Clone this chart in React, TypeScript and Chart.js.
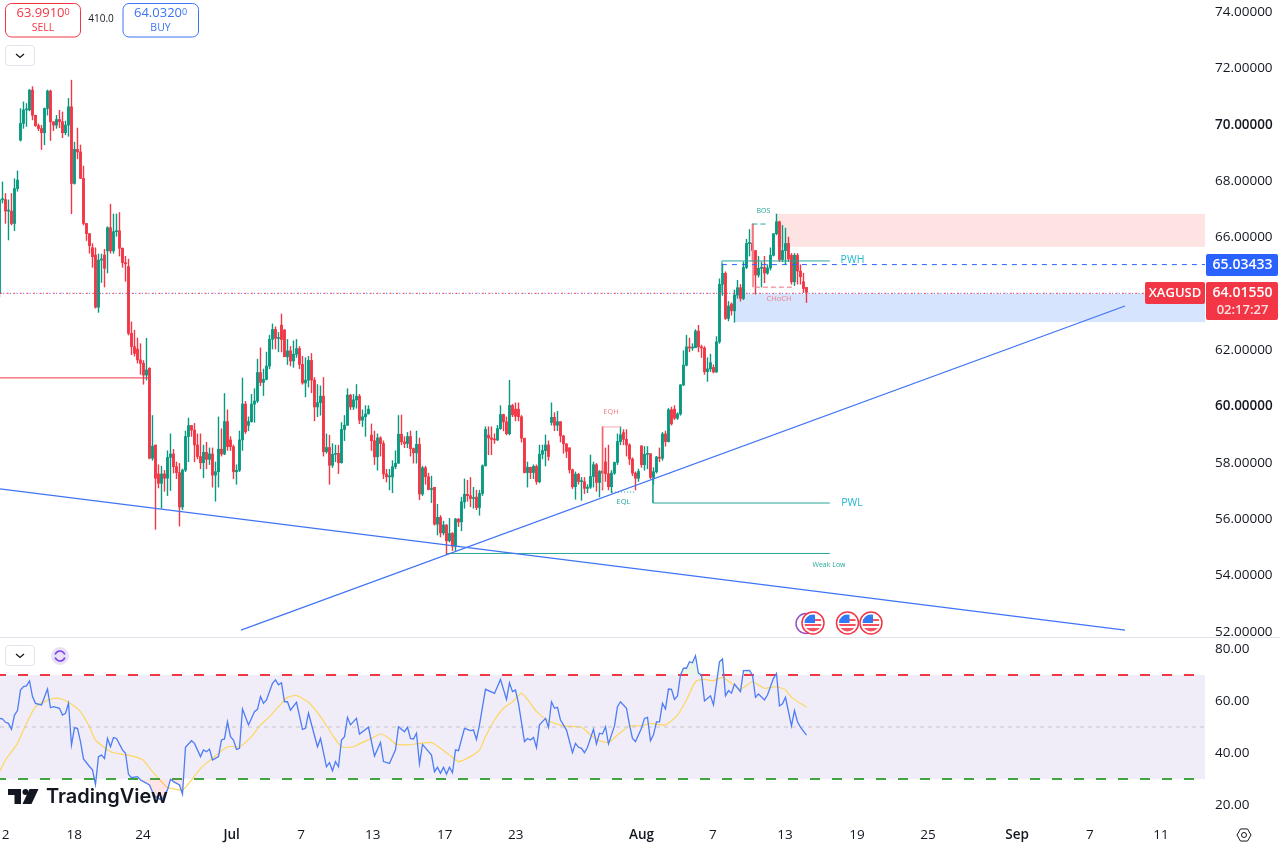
import React, { useEffect, useRef } from "react";
import { Chart, registerables } from "chart.js";

Chart.register(...registerables);

const opens = [
64.0,67.3,67.31,66.9,66.9,66.46,67.7,69.42,70.01,70.49,
70.49,71.19,70.3,69.93,69.83,69.68,70.54,71.16,70.07,69.95,
70.15,70.07,69.68,69.95,70.6,67.88,69.09,69.0,68.06,66.46,
66.1,65.6,65.34,63.49,65.16,65.34,65.49,66.31,65.49,66.17,
66.2,65.58,65.07,64.93,62.56,62.09,62.0,61.62,61.5,61.08,
61.32,58.13,58.6,57.57,57.24,57.57,57.42,58.16,58.28,57.83,
57.62,56.4,57.71,58.9,59.29,59.13,58.6,58.19,57.97,58.34,
58.09,58.28,57.53,57.65,58.45,58.28,59.43,58.78,58.54,57.65,
57.7,58.78,60.05,59.3,59.43,60.05,60.16,61.17,60.82,60.93,
61.4,62.35,62.7,62.38,62.85,62.68,61.73,61.94,61.58,61.82,
62.02,61.46,60.8,60.9,61.6,60.9,59.95,60.1,60.33,58.36,
58.51,57.88,58.27,58.3,57.97,59.15,59.3,60.37,59.95,60.2,
60.33,59.48,59.6,59.7,58.95,58.75,58.18,58.85,58.65,57.57,
57.47,57.47,57.83,57.95,58.98,58.71,58.65,58.9,58.47,58.32,
58.62,56.86,57.79,57.47,57.02,57.1,55.79,56.03,55.48,55.76,
55.2,55.46,55.01,55.97,55.87,56.58,56.85,56.8,56.7,56.75,
56.38,56.88,57.86,58.95,58.85,58.8,58.78,59.18,59.68,59.42,
59.0,60.0,59.87,59.87,59.6,58.84,57.62,57.81,57.62,57.84,
57.3,58.27,58.4,58.6,59.4,59.58,59.3,59.43,58.92,58.64,
58.5,57.72,57.12,57.56,57.3,57.3,57.06,57.1,57.48,57.9,
57.27,57.68,58.0,57.58,57.12,57.6,57.98,58.72,59.04,58.8,
58.6,58.1,57.6,57.42,58.57,57.9,58.27,58.29,57.45,57.65,
58.17,58.13,58.99,58.72,59.85,59.87,59.55,59.7,60.73,61.43,
62.08,62.04,62.05,62.64,62.08,62.04,61.2,61.3,61.35,61.19,
62.26,64.3,64.69,63.09,63.6,63.36,63.92,64.18,63.8,64.9,
65.75,65.76,65.5,64.63,64.87,64.9,64.7,64.88,65.33,66.1,
66.52,65.18,65.5,65.75,65.33,64.39,65.33,64.77,64.39,64.19,
];
const highs = [
67.35,67.94,67.53,67.3,67.53,68.05,68.33,70.54,70.78,70.72,
71.22,71.32,70.3,70.0,69.95,70.56,71.2,71.2,70.07,70.3,
70.48,70.42,70.1,70.9,71.55,69.35,69.85,69.25,68.5,66.46,
66.1,65.75,65.6,65.38,65.38,65.55,66.35,67.15,66.8,66.8,
66.85,65.6,65.3,65.2,62.97,62.68,62.4,62.2,61.6,62.39,
61.35,59.65,58.6,57.9,57.85,57.7,58.4,59.0,58.45,58.0,
57.95,57.75,59.1,59.56,59.3,59.37,59.0,59.0,58.6,58.7,
58.5,58.5,58.0,59.6,59.18,60.43,59.85,58.9,58.6,57.9,
59.1,60.98,60.15,59.6,60.4,60.6,61.65,62.05,61.3,61.9,
62.5,62.9,62.8,62.6,63.25,62.7,62.35,62.1,62.3,62.35,
62.1,61.75,61.7,61.75,61.85,61.0,60.75,60.7,61.0,59.0,
58.95,58.65,58.6,58.6,59.4,59.65,60.6,60.4,60.4,60.75,
60.4,59.85,60.0,60.0,59.35,59.1,59.0,58.9,58.75,57.74,
57.74,58.05,58.4,59.65,59.67,58.9,59.05,59.1,58.5,59.1,
58.85,57.85,57.85,57.6,57.5,57.1,56.5,56.1,55.9,55.78,
56.0,55.5,56.0,56.0,56.75,57.4,57.35,57.45,57.1,57.0,
57.0,57.9,59.25,59.25,59.25,59.0,59.3,60.0,59.7,59.6,
60.9,60.05,60.1,60.1,59.65,58.84,58.0,57.81,57.9,57.9,
58.6,58.6,58.96,58.75,60.1,59.75,59.8,59.43,58.95,58.65,
58.5,57.75,57.65,57.6,57.45,57.45,57.2,58.25,58.0,57.95,
57.7,59.25,58.5,58.6,57.7,58.0,59.0,59.25,59.15,59.15,
58.65,58.15,57.65,57.75,58.57,58.55,58.55,58.3,57.8,58.2,
58.5,59.05,59.1,59.9,59.95,60.0,59.75,60.75,61.95,62.5,
62.4,62.2,62.7,62.85,62.15,62.1,61.7,61.83,61.45,62.45,
64.5,65.03,64.75,63.7,63.65,64.1,64.45,64.3,65.1,65.9,
66.25,66.45,65.5,65.3,65.1,65.3,65.0,65.6,66.1,66.8,
66.55,66.4,66.3,65.98,65.4,65.4,65.4,65.0,64.7,64.19,
];
const lows = [
63.85,67.18,66.46,65.87,66.4,66.2,67.6,69.38,69.83,69.9,
70.45,70.13,69.9,69.75,69.08,69.25,70.3,69.4,69.75,69.83,
69.85,69.5,69.6,69.55,66.8,67.85,68.75,68.05,66.4,65.85,
65.4,64.9,63.45,63.3,64.36,64.2,64.7,65.4,65.4,66.0,
65.3,64.9,64.4,62.5,61.8,61.75,61.5,61.1,60.75,60.9,
58.1,58.05,55.6,57.07,56.35,56.95,56.8,56.98,57.6,57.4,
55.72,56.3,57.65,58.0,58.9,58.0,58.1,57.75,57.43,57.75,
57.9,57.1,56.6,57.1,58.2,58.25,58.4,58.4,57.4,57.2,
57.65,58.4,59.0,59.1,59.4,59.4,60.1,60.7,60.35,60.9,
61.3,62.0,62.0,61.9,61.9,61.75,61.45,61.4,61.35,61.7,
61.3,60.75,60.3,60.65,60.45,59.45,59.6,59.65,58.2,58.3,
57.2,57.8,58.0,57.58,57.95,58.75,59.3,59.85,59.85,59.9,
59.35,59.25,58.9,59.7,58.4,57.9,57.7,58.2,57.4,57.28,
57.0,56.9,57.75,57.95,58.6,58.5,58.5,58.2,57.95,57.95,
56.65,56.8,57.2,57.0,56.55,55.75,55.4,55.33,55.4,54.72,
55.15,54.85,54.85,55.7,55.55,56.35,56.6,56.4,56.35,56.3,
56.1,56.8,57.85,58.25,58.25,58.65,58.75,59.15,59.1,58.95,
58.95,59.6,59.45,59.45,58.7,57.6,57.1,57.4,57.4,57.2,
57.25,58.1,57.85,58.05,59.3,59.1,59.1,58.7,58.3,58.15,
57.6,57.05,56.67,57.2,56.63,56.87,56.9,57.05,57.1,56.95,
56.75,57.0,57.3,57.0,56.9,57.55,57.9,58.6,58.6,58.2,
57.9,57.5,57.0,57.3,57.8,57.7,57.75,57.4,57.2,57.6,
58.0,58.05,58.55,58.7,59.3,59.5,59.5,59.65,60.7,61.4,
61.9,61.95,62.05,61.9,61.7,61.1,60.85,61.2,61.15,61.17,
62.2,63.9,63.05,63.0,63.2,62.95,63.8,63.7,63.75,64.85,
65.3,65.1,63.95,64.55,64.2,64.35,64.65,64.8,65.3,66.05,
65.1,65.1,65.0,65.1,64.3,64.25,64.3,64.3,64.0,63.65,
];
const closes = [
67.3,67.3,66.9,66.9,66.46,67.7,68.0,70.01,70.49,70.49,
71.19,70.3,69.93,69.83,69.68,70.54,71.16,70.07,69.95,70.15,
70.07,69.68,69.95,70.6,67.88,69.09,69.0,68.06,66.46,66.1,
65.67,65.28,63.49,65.16,65.2,64.87,66.31,65.49,66.17,66.2,
65.58,65.07,65.03,62.56,62.09,61.85,61.62,61.5,61.08,61.26,
58.13,58.56,57.42,57.24,57.57,57.42,58.16,58.28,57.83,57.62,
56.4,57.71,58.9,59.29,59.13,58.6,58.19,57.97,58.34,58.09,
58.28,57.53,57.65,58.45,58.28,59.43,58.54,58.54,57.65,57.7,
58.78,60.05,59.07,59.43,60.05,60.16,61.17,60.82,60.93,61.4,
62.35,62.7,62.38,62.38,62.34,61.73,61.94,61.58,61.82,62.02,
61.46,60.8,60.9,61.6,60.9,59.95,60.1,60.33,58.36,58.51,
57.88,58.27,58.3,57.97,59.15,59.3,60.37,59.95,60.2,60.33,
59.48,59.6,59.7,59.87,58.75,58.18,58.85,58.65,57.57,57.47,
57.47,57.83,57.95,58.98,58.71,58.65,58.9,58.47,58.32,58.62,
56.86,57.79,57.47,57.02,57.05,55.79,56.03,55.48,55.76,55.2,
55.46,55.01,55.97,55.87,56.58,56.85,56.8,56.7,56.7,56.38,
56.88,57.86,59.15,58.85,58.8,58.78,59.18,59.68,59.42,59.0,
60.0,59.67,59.62,59.6,58.84,57.62,57.81,57.62,57.84,57.3,
58.27,58.4,58.6,58.19,59.58,59.3,59.43,58.92,58.64,58.37,
57.72,57.12,57.56,57.3,57.3,57.06,57.1,57.48,57.9,57.27,
57.66,57.6,57.58,57.12,57.6,57.98,58.72,58.96,58.8,58.6,
58.1,57.6,57.42,57.66,57.9,58.27,58.29,57.45,57.65,58.17,
58.13,58.99,58.72,59.85,59.35,59.55,59.7,60.73,61.43,62.08,
62.04,62.05,62.64,62.08,62.04,61.2,61.3,61.52,61.19,62.26,
64.3,64.69,63.09,63.53,63.36,63.92,64.18,63.8,64.9,65.75,
65.76,65.5,64.63,64.87,64.9,64.7,64.88,65.33,66.1,66.52,
65.18,65.5,65.75,65.2,64.39,65.33,64.77,64.57,64.15,64.02,
];

const rsiIndex = [
0,1,2,3,4,5,6,7,8,9,10,11,12,14,16,17,18,20,21,22,23,24,25,26,27,28,30,31,32,33,34,35,36,37,38,39,41,42,43,44,46,47,48,50,51,52,54,56,57,58,60,61,62,64,65,67,68,69,70,71,73,74,75,76,77,78,79,80,81,83,85,86,87,88,89,91,92,93,94,95,96,97,99,101,102,103,106,107,109,110,111,112,113,114,115,116,117,119,120,123,125,127,128,130,132,133,135,136,137,138,139,140,
141,144,145,146,147,148,149,150,151,152,153,155,157,158,159,160,162,165,167,169,170,171,172,173,175,176,177,178,179,180,182,183,184,185,186,187,189,191,192,193,194,195,196,198,199,200,201,202,203,205,206,207,209,210,211,212,214,215,216,217,218,219,220,221,222,223,224,225,226,227,228,229,230,231,232,233,234,235,237,238,240,241,242,243,244,245,247,248,250,251,252,253,255,256,258,259,260,261,262,264,265,266,267,269,
];
const rsiValues = [
53.3,53.1,51.8,51.4,49.1,54.6,56.3,64.2,65.5,65.8,67.7,61.7,59.1,58.5,64.6,57.4,57.8,57.2,54.6,55.3,59.1,43.1,49.7,49.5,44.4,37.7,34.8,33.5,27.9,38.6,39.2,37.9,45.6,42.4,45.9,45.6,41.2,39.9,31.8,30.5,30.9,29.6,29.0,27.7,25.0,23.2,21.9,25.8,29.9,29.0,27.7,24.2,42.2,44.7,43.7,38.6,41.2,40.5,41.5,37.3,38.6,45.0,45.4,52.0,46.3,45.0,41.4,41.8,56.9,50.8,55.9,56.8,61.7,59.1,60.4,66.8,68.1,66.2,67.0,59.7,59.7,56.5,59.5,49.1,49.5,55.3,42.4,45.6,34.7,36.3,33.2,36.7,34.7,45.0,46.3,53.7,50.8,53.3,47.3,49.9,38.8,44.0,36.7,36.0,41.2,50.1,48.2,49.9,45.6,45.4,47.6,35.8,
43.3,39.2,32.8,34.5,32.2,34.5,31.9,34.5,32.4,41.2,40.9,49.5,48.6,48.8,45.2,50.8,64.5,62.9,68.3,60.6,67.0,63.6,64.2,59.1,44.4,45.6,45.0,46.0,42.1,50.8,53.3,49.9,59.7,57.2,57.6,52.7,48.8,40.1,43.7,42.2,41.8,40.1,42.2,49.1,43.5,47.6,47.3,50.1,43.5,50.4,57.8,59.7,57.2,50.8,45.6,44.4,49.5,53.3,53.7,44.7,47.0,52.0,52.0,59.1,56.9,64.6,64.5,60.6,61.9,70.0,72.6,72.6,75.1,74.7,77.4,70.6,70.0,60.0,62.0,58.5,75.1,76.2,62.0,64.0,63.0,66.5,63.6,71.7,71.8,70.0,61.4,62.7,60.4,62.3,68.7,70.6,58.1,58.9,61.4,50.4,56.3,52.0,49.9,46.9,
];
const maIndex = [
0,2,6,9,12,15,18,20,23,27,30,32,37,41,45,48,51,54,56,58,61,64,67,71,76,80,84,87,90,94,96,99,103,107,111,114,118,120,124,127,130,132,136,140,
144,147,150,153,157,160,162,165,168,171,174,177,179,183,188,194,197,200,203,206,210,214,217,222,226,229,232,235,238,241,244,247,251,255,259,262,264,269,
];
const maValues = [
32.8,37.3,43.7,51.4,57.8,59.7,61.0,61.0,59.5,55.9,50.1,45.0,40.5,39.5,38.6,37.1,32.8,29.0,26.7,26.2,25.8,29.6,34.1,37.9,42.4,42.4,46.3,50.8,54.0,59.1,61.4,62.1,59.5,54.0,46.9,42.4,42.4,43.5,45.6,47.3,45.6,43.5,43.1,43.7,
44.0,41.8,39.2,36.7,38.6,41.2,46.3,52.7,57.2,59.7,62.9,59.1,55.9,52.4,50.4,49.9,46.9,44.7,44.1,46.9,50.4,50.4,51.4,50.8,54.6,60.4,67.4,68.3,67.8,69.1,66.8,64.5,67.4,64.9,65.5,64.2,61.4,57.6,
];

const priceTicks = [74, 72, 70, 68, 66, 64, 62, 60, 58, 56, 54, 52];
const rsiTicks = [80, 60, 40, 20];
const dateLabels = ["2", "18", "24", "Jul", "7", "13", "17", "23", "Aug", "7", "13", "19", "25", "Sep", "7", "11"];
const dateIndex = [2, 24.9, 47.8, 77.4, 100.5, 124.4, 148.4, 172.1, 214, 237.8, 261.8, 285.8, 309.5, 339.2, 363.5, 387.2];
const lastPrice = 64.0155;
const linePrice = 65.03433;
// small correction between my reading of the picture and the price scale
const readBias = 0.034;

const RED = "#F23645";
const GREEN = "#089981";
const BLUE = "#2962FF";
const TREND = "#3F73F5";
const TEAL = "#26A69A";
const FONT = '"Open Sans", sans-serif';

const rawLine = (pts: number[][], color: string, width = 1, dash: number[] = [], dashOffset = 0) => ({
  type: "line" as const,
  data: pts.map(([x, y]) => ({ x, y })),
  borderColor: color,
  borderWidth: width,
  borderDash: dash,
  borderDashOffset: dashOffset,
  pointRadius: 0,
  tension: 0,
  order: 1,
  yAxisID: "y",
  xAxisID: "x",
});
const priceLine = (pts: number[][], color: string, width = 1, dash: number[] = [], dashOffset = 0) =>
  rawLine(pts.map(([x, y]) => [x, y + readBias]), color, width, dash, dashOffset);
const rsiLine = (pts: number[][], color: string, width = 1, dash: number[] = [], dashOffset = 0) => ({
  ...rawLine(pts, color, width, dash, dashOffset),
  yAxisID: "yr",
});

function roundRect(ctx: CanvasRenderingContext2D, x: number, y: number, w: number, h: number, r: number) {
  ctx.beginPath();
  ctx.roundRect(x, y, w, h, r);
}
function text(ctx: CanvasRenderingContext2D, s: string, x: number, y: number, font: string, color: string, align: CanvasTextAlign = "center") {
  ctx.font = font;
  ctx.fillStyle = color;
  ctx.textAlign = align;
  ctx.textBaseline = "middle";
  ctx.fillText(s, x, y);
}
function chevronButton(ctx: CanvasRenderingContext2D, x: number, y: number) {
  roundRect(ctx, x + 0.5, y + 0.5, 29, 20, 3);
  ctx.fillStyle = "#fff";
  ctx.fill();
  ctx.strokeStyle = "#E0E3EB";
  ctx.lineWidth = 1;
  ctx.stroke();
  ctx.beginPath();
  ctx.moveTo(x + 11, y + 9);
  ctx.lineTo(x + 15, y + 12.5);
  ctx.lineTo(x + 19, y + 9);
  ctx.strokeStyle = "#131722";
  ctx.lineWidth = 1.3;
  ctx.stroke();
}
function flag(ctx: CanvasRenderingContext2D, cx: number, cy: number) {
  ctx.beginPath();
  ctx.arc(cx, cy, 11, 0, Math.PI * 2);
  ctx.fillStyle = "#fff";
  ctx.fill();
  ctx.strokeStyle = RED;
  ctx.lineWidth = 1.5;
  ctx.stroke();
  ctx.save();
  ctx.beginPath();
  ctx.arc(cx, cy, 8.5, 0, Math.PI * 2);
  ctx.clip();
  ctx.fillStyle = "#fff";
  ctx.fillRect(cx - 9, cy - 9, 18, 18);
  ctx.fillStyle = "#F7525F";
  ctx.fillRect(cx - 9, cy - 4, 18, 2);
  ctx.fillRect(cx - 9, cy + 1, 18, 2);
  ctx.fillRect(cx - 9, cy + 5, 18, 4);
  ctx.fillStyle = "#3179F5";
  ctx.fillRect(cx - 9, cy - 9, 11, 9);
  ctx.restore();
}

const backdrop = {
  id: "backdrop",
  afterLayout(chart: any) {
    // the RSI axis has no width of its own; let its labels draw over the price axis column
    chart.scales.yr.right = chart.width;
  },
  beforeDatasetsDraw(chart: any) {
    const { ctx, scales, chartArea } = chart;
    const { x, y, yr } = scales;
    const right = chartArea.right;
    ctx.save();
    ctx.fillStyle = "#F0ECF8";
    ctx.fillRect(0, yr.getPixelForValue(70), right, yr.getPixelForValue(30) - yr.getPixelForValue(70));
    const redTop = y.getPixelForValue(66.8 + readBias);
    const redBot = y.getPixelForValue(65.63 + readBias);
    const blueTop = y.getPixelForValue(63.96 + readBias);
    const blueBot = y.getPixelForValue(62.96 + readBias);
    ctx.fillStyle = "#FDE4E3";
    const redLeft = x.getPixelForValue(259.2);
    ctx.fillRect(redLeft, redTop, right - redLeft, redBot - redTop);
    ctx.fillStyle = "#D6E4FD";
    const blueLeft = x.getPixelForValue(245.2);
    ctx.fillRect(blueLeft, blueTop, right - blueLeft, blueBot - blueTop);
    ctx.fillStyle = "#E0E3EB";
    ctx.fillRect(0, 637, 1280, 1);
    ctx.restore();
  },
};

const chrome = {
  id: "chrome",
  afterDraw(chart: any) {
    const { ctx } = chart;
    ctx.save();

    // small annotation texts
    text(ctx, "PWH", 852.5, 260, `10.5px ${FONT}`, "#22B8CF");
    text(ctx, "PWL", 852, 503, `10.5px ${FONT}`, "#22B8CF");
    text(ctx, "BOS", 763.5, 211, `7px ${FONT}`, TEAL);
    text(ctx, "CHoCH", 779, 299, `7.5px ${FONT}`, "#F27E8A");
    text(ctx, "EQH", 611, 412, `7.5px ${FONT}`, "#F27E8A");
    text(ctx, "EQL", 623.5, 502, `7.5px ${FONT}`, TEAL);
    text(ctx, "Weak Low", 829, 565, `7px ${FONT}`, TEAL);

    // trade buttons
    for (const [bx, bw, color, main, label] of [
      [5, 75, RED, "63.9910", "SELL"],
      [122.5, 75.5, "#3D74F5", "64.0320", "BUY"],
    ] as [number, number, string, string, string][]) {
      roundRect(ctx, bx + 0.5, 3.5, bw, 33.5, 6);
      ctx.fillStyle = "#fff";
      ctx.fill();
      ctx.strokeStyle = color;
      ctx.lineWidth = 1;
      ctx.stroke();
      text(ctx, main, bx + 11.5, 13.5, `13px ${FONT}`, color, "left");
      text(ctx, "0", bx + 59.5, 12, `9px ${FONT}`, color, "left");
      text(ctx, label, bx + 38, 28, `10.5px ${FONT}`, color);
    }
    text(ctx, "410.0", 101, 19, `10px ${FONT}`, "#131722");

    chevronButton(ctx, 5, 45);
    chevronButton(ctx, 5, 645);

    // refresh badge
    ctx.beginPath();
    ctx.arc(60, 656, 9, 0, Math.PI * 2);
    ctx.fillStyle = "#E9E2F6";
    ctx.fill();
    ctx.strokeStyle = "#7A3FF0";
    ctx.lineWidth = 1.7;
    ctx.beginPath();
    ctx.arc(60, 656, 5, 0.3, Math.PI - 0.3);
    ctx.stroke();
    ctx.beginPath();
    ctx.arc(60, 656, 5, Math.PI + 0.3, Math.PI * 2 - 0.3);
    ctx.stroke();

    // calendar events
    ctx.beginPath();
    ctx.arc(806, 623.5, 10, 0, Math.PI * 2);
    ctx.strokeStyle = "#9C4FC4";
    ctx.lineWidth = 1.5;
    ctx.stroke();
    flag(ctx, 813, 623);
    flag(ctx, 847.5, 623);
    flag(ctx, 871, 623);

    // price tags
    roundRect(ctx, 1206, 254, 72, 22, 2);
    ctx.fillStyle = "#2962FF";
    ctx.fill();
    text(ctx, "65.03433", 1242.5, 265, `600 14px ${FONT}`, "#fff");
    roundRect(ctx, 1206, 282, 72, 38, 2);
    ctx.fillStyle = RED;
    ctx.fill();
    text(ctx, "64.01550", 1242.5, 293, `600 14px ${FONT}`, "#fff");
    text(ctx, "02:17:27", 1242.5, 310.5, `600 13px ${FONT}`, "#FFE3E5");
    roundRect(ctx, 1145, 282, 60, 22, 2);
    ctx.fillStyle = RED;
    ctx.fill();
    text(ctx, "XAGUSD", 1175, 293, `600 13px ${FONT}`, "#fff");

    // logo
    ctx.fillStyle = "#131722";
    ctx.fillRect(8, 789, 13, 6);
    ctx.fillRect(14.5, 789, 6.5, 15);
    ctx.beginPath();
    ctx.arc(25.5, 792, 3, 0, Math.PI * 2);
    ctx.fill();
    ctx.beginPath();
    ctx.moveTo(29.5, 789);
    ctx.lineTo(38.5, 789);
    ctx.lineTo(31.5, 804);
    ctx.lineTo(22.5, 804);
    ctx.closePath();
    ctx.fill();
    text(ctx, "TradingView", 46, 797, `600 20px Inter, ${FONT}`, "#131722", "left");

    // settings gear
    ctx.strokeStyle = "#131722";
    ctx.lineWidth = 1;
    ctx.beginPath();
    for (let k = 0; k < 6; k++) {
      const a = (Math.PI / 3) * k;
      const px = 1244 + 7 * Math.cos(a);
      const py = 835 + 7 * Math.sin(a);
      if (k === 0) ctx.moveTo(px, py);
      else ctx.lineTo(px, py);
    }
    ctx.closePath();
    ctx.stroke();
    ctx.beginPath();
    ctx.arc(1244, 835, 2.5, 0, Math.PI * 2);
    ctx.stroke();

    ctx.restore();
  },
};

const noPad = (s: any) => {
  s.paddingTop = 0;
  s.paddingBottom = 0;
  s.paddingLeft = 0;
  s.paddingRight = 0;
};
const noGrid = { display: false, drawTicks: false, tickLength: 0 };

export default function App() {
  const ref = useRef<HTMLCanvasElement>(null);
  useEffect(() => {
    const idx = closes.map((_, i) => i);
    const colors = closes.map((c, i) => (c >= opens[i] ? GREEN : RED));
    const rsiPts = rsiIndex.map((x, i) => ({ x, y: rsiValues[i] }));
    const maPts = maIndex.map((x, i) => ({ x, y: maValues[i] }));
    const right = 401.84;

    const chart = new Chart(ref.current as HTMLCanvasElement, {
      type: "bar",
      data: {
        datasets: [
          {
            label: "wicks",
            data: idx.map((i) => ({ x: i, y: [lows[i] + readBias, highs[i] + readBias] })),
            backgroundColor: colors,
            barThickness: 1,
            grouped: false,
            inflateAmount: 0.2,
            order: 4,
            yAxisID: "y",
            xAxisID: "x",
          },
          {
            label: "bodies",
            data: idx.map((i) => ({
              x: i,
              y: [Math.min(opens[i], closes[i]) + readBias, Math.max(opens[i], closes[i]) + readBias],
            })),
            backgroundColor: colors,
            barThickness: 2.2,
            minBarLength: 1,
            grouped: false,
            order: 3,
            yAxisID: "y",
            xAxisID: "x",
          },
          priceLine([[0.17, 57.04], [375.17, 52.03]], TREND, 1.2),
          priceLine([[80.5, 52.03], [375.17, 63.53]], TREND, 1.2),
          rawLine([[0.17, lastPrice], [right, lastPrice]], RED, 1, [2, 4.6]),
          rawLine([[0.17, lastPrice], [right, lastPrice]], BLUE, 1, [1, 5.6], 3.3),
          rawLine([[240.8, linePrice], [right, linePrice]], BLUE, 1, [5, 5]),
          priceLine([[0.17, 60.98], [50.5, 60.98]], RED),
          priceLine([[240.8, 64.0], [240.8, 65.13], [276.8, 65.13]], TEAL),
          priceLine([[217.8, 57.43], [217.8, 56.54], [276.8, 56.54]], TEAL),
          priceLine([[149.2, 54.75], [276.8, 54.75]], TEAL),
          priceLine([[251, 66.44], [256.2, 66.44]], TEAL, 1, [5, 3]),
          priceLine([[251.2, 66.44], [251.2, 64.2]], "#F7838D"),
          priceLine([[251.8, 64.2], [265.2, 64.2]], "#F0707C", 1, [5, 3]),
          priceLine([[201.2, 57.07], [201.2, 59.24], [207.2, 59.24]], "#F7A5AC", 1),
          priceLine([[204.2, 56.93], [212.2, 56.93]], TEAL, 1, [1, 2]),
          rsiLine([[0.17, 70], [right, 70]], RED, 2, [10, 12], 4),
          rsiLine([[0.17, 30], [right, 30]], "#3FA63F", 2, [10, 12], 4),
          rsiLine([[0.17, 50], [right, 50]], "#C5C5CE", 1, [4, 4]),
          {
            type: "line",
            label: "rsi",
            data: rsiPts,
            yAxisID: "yr",
            xAxisID: "x",
            borderColor: "#4C7DF5",
            borderWidth: 1.3,
            pointRadius: 0,
            tension: 0,
            order: 0,
            fill: { target: { value: 30 }, above: "transparent", below: "rgba(242,54,69,0.13)" },
          },
          {
            type: "line",
            label: "rsi overbought",
            data: rsiPts,
            yAxisID: "yr",
            xAxisID: "x",
            borderWidth: 0,
            pointRadius: 0,
            tension: 0,
            order: 2,
            fill: { target: { value: 70 }, above: "rgba(76,175,80,0.13)", below: "transparent" },
          },
          {
            type: "line",
            label: "rsi ma",
            data: maPts,
            yAxisID: "yr",
            xAxisID: "x",
            borderColor: "#FDD75F",
            borderWidth: 1.2,
            pointRadius: 0,
            tension: 0.2,
            order: 1,
          },
        ] as any,
      },
      options: {
        responsive: false,
        animation: false,
        events: [],
        layout: { padding: 0 },
        plugins: { legend: { display: false }, tooltip: { enabled: false } },
        scales: {
          x: {
            type: "linear",
            min: 0.17,
            max: right,
            offset: false,
            grid: noGrid,
            border: { display: false },
            afterBuildTicks: (s: any) => {
              s.ticks = dateIndex.map((value) => ({ value }));
            },
            afterFit: (s: any) => {
              s.height = 27;
              noPad(s);
            },
            ticks: {
              autoSkip: false,
              maxRotation: 0,
              padding: 5,
              color: "#131722",
              font: (c: any) => ({
                family: FONT,
                size: 13.5,
                weight: c.index === 3 || c.index === 8 || c.index === 13 ? "600" : "400",
              }),
              callback: (_v: any, i: number) => dateLabels[i],
            },
          },
          y: {
            type: "linear",
            position: "right",
            min: 45.255,
            max: 74.424,
            grid: noGrid,
            border: { display: false },
            afterBuildTicks: (s: any) => {
              s.ticks = priceTicks.map((value) => ({ value }));
            },
            afterFit: (s: any) => {
              s.width = 75;
              noPad(s);
            },
            ticks: {
              autoSkip: false,
              padding: 10,
              color: "#131722",
              font: (c: any) => ({
                family: FONT,
                size: 13.5,
                weight: c.tick && c.tick.value % 10 === 0 ? "600" : "400",
              }),
              callback: (v: any) => Number(v).toFixed(5),
            },
          },
          yr: {
            type: "linear",
            position: "right",
            weight: -1,
            min: 13.46,
            max: 329.6,
            grid: noGrid,
            border: { display: false },
            afterBuildTicks: (s: any) => {
              s.ticks = rsiTicks.map((value) => ({ value }));
            },
            afterFit: (s: any) => {
              s.width = 0;
              noPad(s);
            },
            ticks: {
              autoSkip: false,
              padding: 10,
              color: "#131722",
              font: { family: FONT, size: 13.5 },
              callback: (v: any) => Number(v).toFixed(2),
            },
          },
        } as any,
      },
      plugins: [backdrop, chrome],
    });
    return () => chart.destroy();
  }, []);
  return (
    <div style={{ position: "fixed", left: 0, top: 0, width: 1280, height: 849, background: "#fff" }}>
      <canvas ref={ref} width={1280} height={849} style={{ display: "block" }} />
    </div>
  );
}
